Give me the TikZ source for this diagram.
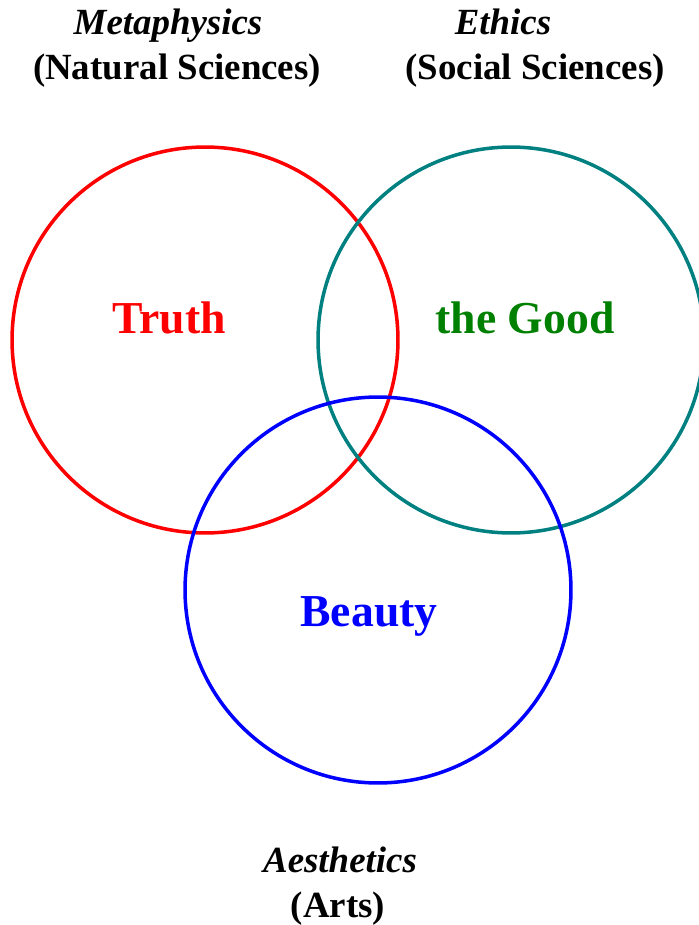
\documentclass[tikz,border=0pt]{standalone}
\usepackage{fontspec}
\setmainfont{Liberation Serif}
\usepackage{xcolor}
\definecolor{goodgreen}{RGB}{0,128,0}
\definecolor{ringteal}{RGB}{0,128,128}
\usetikzlibrary{positioning}

\begin{document}
\begin{tikzpicture}[
        x=0.02cm, y=-0.02cm,
        ring/.style={
            circle,
            draw,
            line width=2pt,
            minimum size=7.72cm,
            inner sep=0pt
        },
        field/.style={
            font=\fontsize{21}{25}\selectfont\bfseries,
            align=center,
            inner sep=0pt
        },
        value/.style={
            font=\fontsize{26}{30}\selectfont\bfseries,
            inner sep=0pt
        }
    ]
        \useasboundingbox (0,0) rectangle (698,925);

        % Circles
        \node[ring, draw=red] (truthC) at (205,340) {};
        \node[ring, draw=ringteal] (goodC) at (511,340) {};
        \node[ring, draw=blue] (beautyC) at (378,590) {};

        % Values
        \node[value, text=red, anchor=base] (truth) at (169,334) {Truth};
        \node[value, text=goodgreen, anchor=base] (good) at (525,334) {the Good};
        \node[value, text=blue, anchor=base] (beauty) at (369,626) {Beauty};

        % Fields
        \node[field, anchor=base] (meta) at (168,35) {\itshape Metaphysics};
        \node[field, anchor=base] (natural) at (177,80) {(Natural Sciences)};
        \node[field, anchor=base] (ethics) at (503,35) {\itshape Ethics};
        \node[field, anchor=base] (social) at (535,80) {(Social Sciences)};
        \node[field, anchor=base] (aesth) at (340,872) {\itshape Aesthetics};
        \node[field, anchor=base] (arts) at (338,917) {(Arts)};
    \end{tikzpicture}
\end{document}
